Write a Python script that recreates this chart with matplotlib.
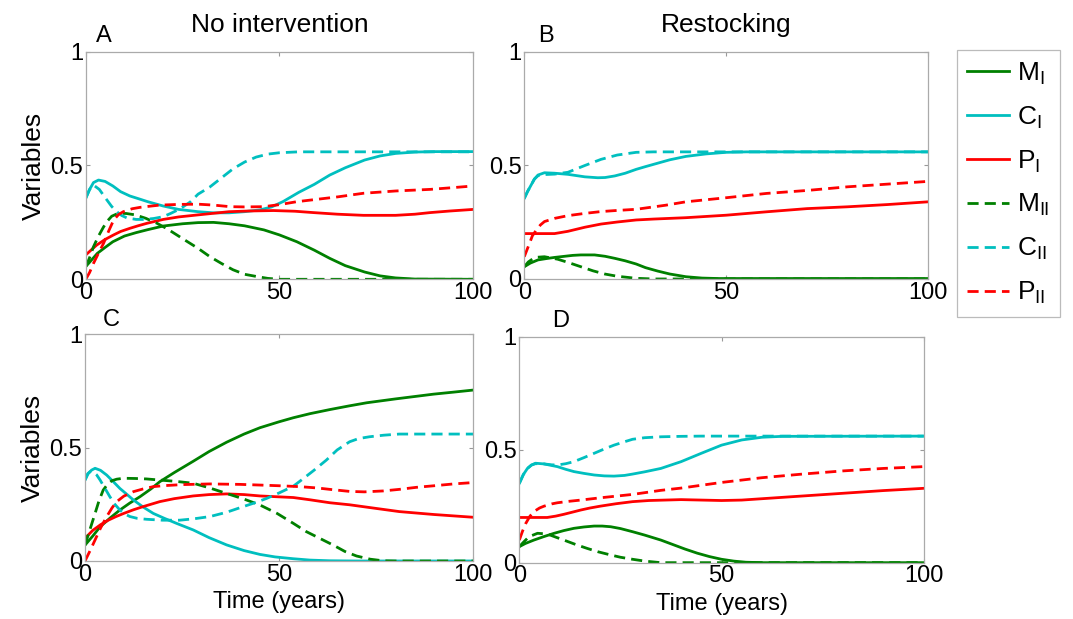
import matplotlib
matplotlib.use("Agg")
import matplotlib.pyplot as plt

plt.rcParams['font.family'] = ['Liberation Sans', 'DejaVu Sans']
plt.rcParams['mathtext.fontset'] = 'custom'
plt.rcParams['mathtext.rm'] = 'Liberation Sans'

GREEN = '#008000'
CYAN = '#00bfbf'
RED = '#ff0000'

# ---- Panel A: no intervention ----
tA_mi = [0, 1, 3, 5, 7, 10, 13, 16, 20, 25, 29, 33, 37, 41, 46, 50, 54.5, 59, 63, 67, 72, 76, 80, 85, 100]
A_mi = [0.056, 0.075, 0.114, 0.14, 0.165, 0.19, 0.205, 0.218, 0.234, 0.244, 0.249, 0.25, 0.244, 0.235,
        0.217, 0.195, 0.165, 0.128, 0.092, 0.06, 0.032, 0.015, 0.006, 0.001, 0.0]
tA_ci = [0, 1, 2, 3.3, 5, 7, 9, 11.4, 14, 16, 20, 24, 29, 33, 37, 41, 45, 48, 51, 55, 59, 63, 67, 72,
         76, 80, 85, 90, 100]
A_ci = [0.356, 0.395, 0.425, 0.436, 0.43, 0.41, 0.385, 0.366, 0.352, 0.341, 0.322, 0.307, 0.297, 0.292,
        0.292, 0.297, 0.305, 0.318, 0.342, 0.382, 0.417, 0.458, 0.49, 0.524, 0.542, 0.553, 0.559, 0.561, 0.561]
tA_pi = [0, 2.8, 5, 7.2, 9, 11.4, 13.5, 15.8, 18, 20, 24, 29, 33, 37, 42, 48.5, 54, 58.8, 65, 71.7, 80,
         85, 88.9, 94, 100]
A_pi = [0.107, 0.15, 0.175, 0.195, 0.21, 0.224, 0.235, 0.246, 0.255, 0.263, 0.274, 0.283, 0.29, 0.297,
        0.3, 0.302, 0.299, 0.293, 0.286, 0.281, 0.281, 0.286, 0.293, 0.3, 0.307]
tA_mii = [0, 1, 2, 3.3, 4.6, 5.7, 6.7, 8, 9, 10.5, 12.8, 15.5, 18.4, 21, 23.5, 26, 29, 32, 35, 38, 41,
          44.2, 47, 50, 100]
A_mii = [0.055, 0.095, 0.143, 0.19, 0.23, 0.258, 0.277, 0.287, 0.29, 0.289, 0.283, 0.268, 0.246, 0.222,
         0.195, 0.168, 0.136, 0.1, 0.07, 0.042, 0.022, 0.012, 0.004, 0.0, 0.0]
tA_cii = [0, 1, 2, 3.5, 5.4, 6.7, 8, 9.3, 10.6, 13, 15, 17.5, 20, 22, 24.4, 27, 29, 32, 35, 38, 41, 44,
          47, 50, 55, 100]
A_cii = [0.356, 0.395, 0.414, 0.395, 0.35, 0.32, 0.297, 0.28, 0.27, 0.263, 0.263, 0.267, 0.275, 0.29,
         0.31, 0.34, 0.374, 0.405, 0.445, 0.485, 0.515, 0.537, 0.55, 0.556, 0.56, 0.56]
tA_pii = [0, 1, 2, 3.3, 4.6, 6, 7.2, 8.5, 9.7, 12, 14, 17, 19.2, 24, 29, 33, 37.3, 41, 45.9, 50, 54.5,
          60, 65, 71.7, 80, 88.9, 95, 100]
A_pii = [0.0, 0.03, 0.07, 0.115, 0.158, 0.215, 0.26, 0.285, 0.297, 0.31, 0.316, 0.322, 0.326, 0.329,
         0.33, 0.326, 0.319, 0.318, 0.319, 0.328, 0.341, 0.352, 0.362, 0.378, 0.388, 0.395, 0.403, 0.41]

# ---- Panel B: restocking ----
tB_mi = [0, 1.5, 3.4, 5.5, 7.5, 10, 12, 14, 17.4, 20, 22.4, 25, 27.7, 30, 33, 36, 40, 44, 48, 52, 100]
B_mi = [0.054, 0.07, 0.084, 0.09, 0.095, 0.1, 0.104, 0.106, 0.106, 0.1, 0.091, 0.08, 0.066, 0.05, 0.035,
        0.022, 0.01, 0.004, 0.002, 0.002, 0.002]
tB_ci = [0, 0.8, 1.7, 2.5, 3.4, 5, 7.5, 10.8, 15, 18.2, 20, 22.4, 25, 27.7, 30, 33, 36, 40, 45, 50, 55, 100]
B_ci = [0.355, 0.385, 0.414, 0.44, 0.458, 0.468, 0.466, 0.461, 0.45, 0.446, 0.447, 0.454, 0.466, 0.483,
        0.495, 0.51, 0.525, 0.54, 0.551, 0.558, 0.56, 0.56]
tB_pi = [0, 5, 7.5, 10.8, 15, 19, 23, 27.7, 32, 40, 50, 60, 70, 80, 90, 100]
B_pi = [0.2, 0.2, 0.2, 0.21, 0.228, 0.242, 0.251, 0.26, 0.264, 0.27, 0.281, 0.296, 0.31, 0.318, 0.328, 0.34]
tB_mii = [0, 1, 2.6, 5, 8.3, 11, 14, 17, 19.9, 23, 27.7, 32, 100]
B_mii = [0.054, 0.075, 0.095, 0.098, 0.087, 0.072, 0.054, 0.036, 0.022, 0.012, 0.003, 0.0, 0.0]
tB_cii = [0, 0.8, 1.7, 2.5, 3.4, 5, 7.5, 10.8, 15, 19, 23, 27.7, 32, 36, 100]
B_cii = [0.355, 0.385, 0.414, 0.44, 0.455, 0.46, 0.462, 0.47, 0.5, 0.527, 0.546, 0.558, 0.56, 0.56, 0.56]
tB_pii = [0, 1.3, 2, 3, 4, 5, 7.5, 10.8, 15, 19, 23, 27.7, 35, 40, 50, 60, 70, 80, 90, 100]
B_pii = [0.098, 0.157, 0.19, 0.216, 0.238, 0.253, 0.267, 0.279, 0.289, 0.297, 0.302, 0.307, 0.325, 0.34,
         0.358, 0.377, 0.39, 0.406, 0.418, 0.43]

# ---- Panel C ----
tC_mi = [0, 2, 3.9, 6.5, 9, 11.5, 14.2, 17, 19.3, 23, 27.9, 32, 36.5, 41, 45.1, 50, 53.7, 58, 63.1, 68,
         72.6, 80, 89.8, 95, 100]
C_mi = [0.07, 0.11, 0.151, 0.19, 0.225, 0.255, 0.284, 0.318, 0.35, 0.39, 0.44, 0.483, 0.524, 0.56, 0.588,
        0.614, 0.632, 0.65, 0.668, 0.684, 0.698, 0.715, 0.736, 0.745, 0.754]
tC_ci = [0, 0.8, 1.7, 2.6, 4, 5.6, 7.3, 9, 10.8, 12.5, 15, 17.6, 20.5, 23.6, 27.9, 32, 36.5, 41, 45.1,
         49, 53.7, 58, 63.1, 70, 100]
C_ci = [0.357, 0.385, 0.401, 0.409, 0.4, 0.379, 0.35, 0.32, 0.294, 0.269, 0.238, 0.21, 0.188, 0.166,
        0.137, 0.103, 0.071, 0.046, 0.029, 0.018, 0.01, 0.004, 0.001, 0.0, 0.0]
tC_pi = [0, 2, 4, 6, 8, 10, 12.5, 15, 19.3, 23, 27.9, 32, 36.5, 41, 45.1, 50, 53.7, 58, 63.1, 68.2, 75,
         81, 90, 100]
C_pi = [0.1, 0.135, 0.16, 0.18, 0.196, 0.21, 0.226, 0.24, 0.262, 0.275, 0.287, 0.293, 0.296, 0.293,
        0.287, 0.283, 0.28, 0.27, 0.257, 0.248, 0.232, 0.218, 0.205, 0.193]
tC_mii = [0, 1.3, 2.6, 3.6, 4.7, 5.8, 6.9, 8.2, 9.9, 13, 15.9, 19.3, 23, 27.9, 32, 36.5, 41, 45.1, 49.5,
          53.7, 57, 60.5, 64, 67, 70, 73.5, 76.8, 80, 100]
C_mii = [0.07, 0.14, 0.21, 0.265, 0.313, 0.338, 0.354, 0.361, 0.365, 0.364, 0.362, 0.357, 0.352, 0.343,
         0.323, 0.298, 0.273, 0.247, 0.21, 0.166, 0.13, 0.1, 0.07, 0.042, 0.022, 0.008, 0.001, 0.0, 0.0]
tC_cii = [0, 0.7, 1.3, 2, 3, 3.9, 5.1, 6.4, 7.7, 9, 10.3, 11.6, 13.5, 15.9, 20, 24.4, 28, 32.2, 36.5,
          40.8, 44, 46.8, 50, 53.7, 56, 59, 62.2, 65, 68.2, 70.5, 73.3, 77, 81, 100]
C_cii = [0.357, 0.385, 0.394, 0.395, 0.38, 0.357, 0.322, 0.284, 0.25, 0.225, 0.207, 0.196, 0.188, 0.184,
         0.18, 0.18, 0.186, 0.196, 0.215, 0.24, 0.258, 0.276, 0.3, 0.33, 0.36, 0.4, 0.445, 0.49, 0.526,
         0.54, 0.548, 0.555, 0.56, 0.56]
tC_pii = [0, 1.3, 2.6, 4, 5.6, 7, 8.2, 10, 12.5, 15, 17.6, 20, 25, 32.2, 40, 45.1, 50, 55.4, 60, 63.1,
          68.2, 72, 76.8, 81, 85.4, 90, 95, 100]
C_pii = [0.0, 0.045, 0.093, 0.145, 0.196, 0.235, 0.262, 0.286, 0.306, 0.318, 0.328, 0.332, 0.337, 0.34,
         0.338, 0.335, 0.332, 0.328, 0.322, 0.316, 0.307, 0.305, 0.309, 0.316, 0.325, 0.332, 0.34, 0.346]

# ---- Panel D ----
tD_mi = [0, 1.5, 3.6, 6, 8.6, 11, 13.5, 16, 18.5, 20.5, 22.6, 25, 28, 31, 35, 38, 41, 44, 47, 50, 53,
         56, 60, 100]
D_mi = [0.071, 0.085, 0.1, 0.115, 0.13, 0.142, 0.152, 0.158, 0.162, 0.162, 0.159, 0.151, 0.137, 0.122,
        0.1, 0.08, 0.06, 0.042, 0.027, 0.015, 0.007, 0.002, 0.0, 0.0]
tD_ci = [0, 1, 2, 3, 4, 6.1, 8, 9.4, 11.5, 13.5, 16, 18.5, 21, 23.4, 26, 28, 31, 35, 40, 45, 50, 55,
         60, 65, 100]
D_ci = [0.351, 0.39, 0.417, 0.432, 0.44, 0.437, 0.43, 0.425, 0.413, 0.403, 0.395, 0.388, 0.384, 0.383,
        0.386, 0.392, 0.402, 0.417, 0.447, 0.484, 0.52, 0.543, 0.555, 0.559, 0.56]
tD_pi = [0, 6.9, 9, 11, 13, 15.2, 17.5, 20, 24, 28, 32, 40, 50, 55, 60, 70, 80, 90, 100]
D_pi = [0.2, 0.2, 0.206, 0.214, 0.223, 0.233, 0.242, 0.25, 0.261, 0.27, 0.275, 0.279, 0.275, 0.277,
        0.283, 0.295, 0.307, 0.319, 0.329]
tD_mii = [0, 1, 2.4, 4.5, 6.9, 9, 11, 14, 16.8, 19.5, 22.6, 25, 28, 31, 35, 100]
D_mii = [0.071, 0.09, 0.115, 0.13, 0.127, 0.113, 0.1, 0.08, 0.063, 0.048, 0.034, 0.024, 0.015, 0.007,
         0.0, 0.0]
tD_cii = [0, 1, 2, 3, 4, 6.1, 8, 9.4, 11.5, 13.5, 16, 18.5, 21, 23.4, 26, 28, 31, 35, 40, 45, 100]
D_cii = [0.351, 0.39, 0.417, 0.432, 0.438, 0.437, 0.433, 0.432, 0.438, 0.447, 0.465, 0.484, 0.503, 0.52,
         0.535, 0.546, 0.553, 0.557, 0.559, 0.56, 0.56]
tD_pii = [0, 0.8, 1.6, 2.6, 3.6, 5, 6.1, 8, 9.4, 12, 15.2, 20, 28, 35, 40, 50, 60, 70, 80, 90, 100]
D_pii = [0.1, 0.14, 0.174, 0.205, 0.226, 0.242, 0.25, 0.26, 0.265, 0.271, 0.277, 0.287, 0.302, 0.32,
         0.33, 0.355, 0.376, 0.392, 0.406, 0.417, 0.425]

labels = [r'$\mathrm{M_I}$', r'$\mathrm{C_I}$', r'$\mathrm{P_I}$',
          r'$\mathrm{M_{II}}$', r'$\mathrm{C_{II}}$', r'$\mathrm{P_{II}}$']

# letter, title, axes rect, letter x/y (axes fraction), series
panels = [
    ('A', 'No intervention', [0.0799, 0.5488, 0.361, 0.3677], (0.026, 1.044),
     [(tA_mi, A_mi), (tA_ci, A_ci), (tA_pi, A_pi), (tA_mii, A_mii), (tA_cii, A_cii), (tA_pii, A_pii)]),
    ('B', 'Restocking', [0.4886, 0.5493, 0.3765, 0.3667], (0.034, 1.044),
     [(tB_mi, B_mi), (tB_ci, B_ci), (tB_pi, B_pi), (tB_mii, B_mii), (tB_cii, B_cii), (tB_pii, B_pii)]),
    ('C', None, [0.0792, 0.0937, 0.3616, 0.3662], (0.047, 1.036),
     [(tC_mi, C_mi), (tC_ci, C_ci), (tC_pi, C_pi), (tC_mii, C_mii), (tC_cii, C_cii), (tC_pii, C_pii)]),
    ('D', None, [0.484, 0.091, 0.3769, 0.3651], (0.081, 1.044),
     [(tD_mi, D_mi), (tD_ci, D_ci), (tD_pi, D_pi), (tD_mii, D_mii), (tD_cii, D_cii), (tD_pii, D_pii)]),
]

colors = [GREEN, CYAN, RED, GREEN, CYAN, RED]
dashed = [False, False, False, True, True, True]

fig = plt.figure(figsize=(10.73, 6.19), dpi=100)

handles = []
for letter, title, rect, lpos, series in panels:
    ax = fig.add_axes(rect)
    hs = []
    for (t, y), c, d, lab in zip(series, colors, dashed, labels):
        if d:
            h, = ax.plot(t, y, color=c, lw=2.0, dashes=(4, 2.2), label=lab)
        else:
            h, = ax.plot(t, y, color=c, lw=2.0, label=lab)
        hs.append(h)
    if not handles:
        handles = hs
    ax.set_xlim(0, 100)
    ax.set_ylim(0, 1)
    ax.set_xticks([0, 50, 100])
    ax.set_yticks([0, 0.5, 1])
    ax.set_xticklabels(['0', '50', '100'])
    ax.set_yticklabels(['0', '0.5', '1'])
    ax.tick_params(direction='in', length=3, width=0.8, color='#999999',
                   labelsize=17, pad=2, top=True, right=True)
    for s in ax.spines.values():
        s.set_color('#aaaaaa')
        s.set_linewidth(0.9)
    ax.text(lpos[0], lpos[1], letter, transform=ax.transAxes, fontsize=17,
            ha='left', va='baseline')
    if title:
        ax.text(0.5, 1.088, title, transform=ax.transAxes, fontsize=19,
                ha='center', va='baseline')
    if letter in ('A', 'C'):
        ax.set_ylabel('Variables', fontsize=19, labelpad=3)
    if letter in ('C', 'D'):
        ax.set_xlabel('Time (years)', fontsize=17, labelpad=4)

leg = fig.legend(handles=handles, loc='upper left', bbox_to_anchor=(0.8916, 0.9192),
                 fontsize=19, frameon=True, fancybox=False, handlelength=1.6,
                 handletextpad=0.3, labelspacing=0.67, borderpad=0.4,
                 borderaxespad=0)
leg.get_frame().set_edgecolor('#aaaaaa')
leg.get_frame().set_linewidth(0.9)

fig.savefig('out.png', dpi=100)
